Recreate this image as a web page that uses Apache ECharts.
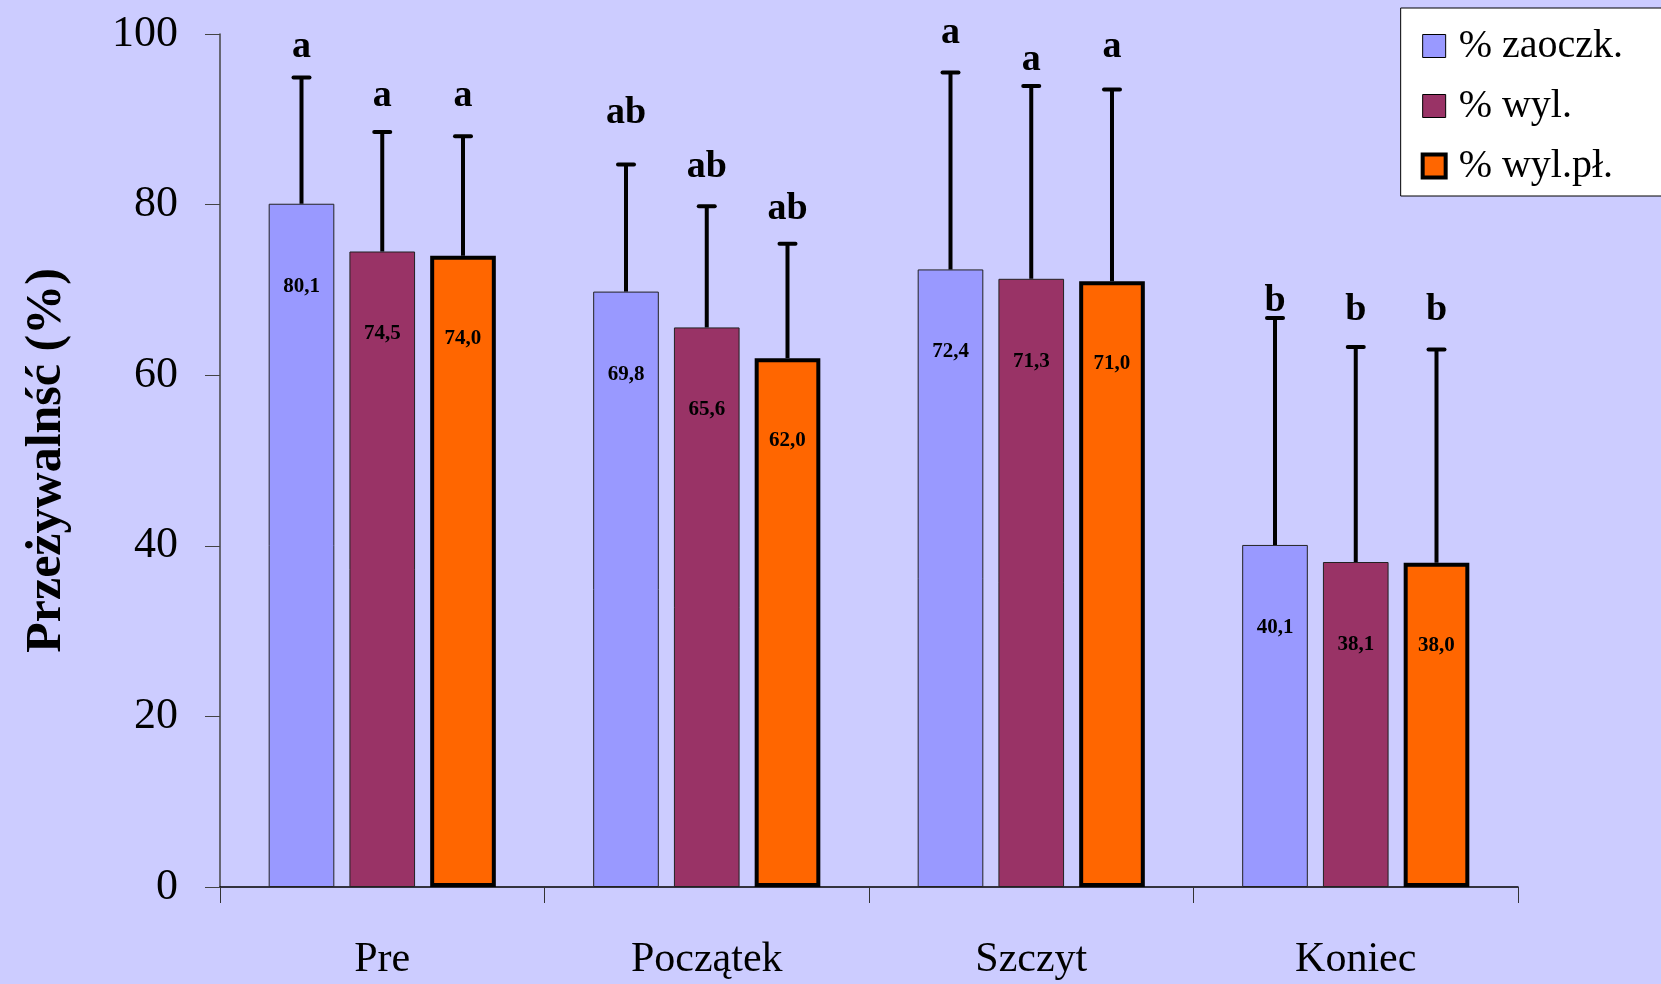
<!DOCTYPE html>
<html>
<head>
<meta charset="utf-8">
<script src="https://cdn.jsdelivr.net/npm/echarts@6/dist/echarts.min.js"></script>
<style>
  html, body { margin: 0; padding: 0; background: #CCCCFF; }
  #chart { width: 1661px; height: 984px; }
</style>
</head>
<body>
<div id="chart"></div>
<script>
// === DANE ===
const categories = ['Pre', 'Początek', 'Szczyt', 'Koniec'];
const seriesNames = ['% zaoczk.', '% wyl.', '% wyl.pł.'];

const zaoczk = [80.1, 69.8, 72.4, 40.1];
const wyl = [74.5, 65.6, 71.3, 38.1];
const wylPl = [74.0, 62.0, 71.0, 38.0];

// górne końce słupków błędu
const errZaoczk = [94.9, 84.7, 95.5, 66.7];
const errWyl = [88.5, 79.8, 93.9, 63.3];
const errWylPl = [88.0, 75.4, 93.5, 63.0];

// litery grup jednorodnych i ich wysokość (w jednostkach osi Y)
const lettersZaoczk = ['a', 'ab', 'a', 'b'];
const lettersWyl = ['a', 'ab', 'a', 'b'];
const lettersWylPl = ['a', 'ab', 'a', 'b'];
const letterYZaoczk = [98.5, 90.7, 100.1, 68.7];
const letterYWyl = [92.7, 84.4, 96.9, 67.6];
const letterYWylPl = [92.7, 79.5, 98.5, 67.6];

const yTicks = [0, 20, 40, 60, 80, 100];

// === KONFIGURACJA ===
const colors = ['#9999FF', '#993366', '#FF6600'];
const serif = '"Liberation Serif", "Times New Roman", serif';
const CAT_GAP = 0.3;
const BAR_GAP = 0.23;

const values = [zaoczk, wyl, wylPl];
const errs = [errZaoczk, errWyl, errWylPl];
const letters = [lettersZaoczk, lettersWyl, lettersWylPl];
const letterY = [letterYZaoczk, letterYWyl, letterYWylPl];

// dane do serii custom: [kategoria, seria, wartość, górny błąd, y litery]
const errData = [];
values.forEach((arr, s) => {
    arr.forEach((v, i) => {
        errData.push([i, s, v, errs[s][i], letterY[s][i], letters[s][i]]);
    });
});

function fmt(v) {
    return v.toFixed(1).replace('.', ',');
}

function renderError(params, api) {
    const cat = api.value(0);
    const s = api.value(1);
    const val = api.value(2);
    const top = api.value(3);
    const ly = api.value(4);
    const letter = errData[params.dataIndex][5];
    const band = api.size([1, 0])[0];
    const bw = band * (1 - CAT_GAP) / (3 + 2 * BAR_GAP);
    const cx = api.coord([cat, 0])[0] + (s - 1) * bw * (1 + BAR_GAP);
    const y0 = api.coord([cat, val])[1];
    const y1 = api.coord([cat, top])[1];
    const yl = api.coord([cat, ly])[1];
    const style = { stroke: '#000', lineWidth: 4 };
    return {
        type: 'group',
        children: [
            { type: 'line', shape: { x1: cx, y1: y0, x2: cx, y2: y1 }, style: style },
            { type: 'line', shape: { x1: cx - 8, y1: y1, x2: cx + 8, y2: y1 }, style: Object.assign({ lineCap: 'round' }, style) },
            {
                type: 'text',
                x: cx, y: yl,
                style: {
                    text: letter, fill: '#000',
                    font: 'bold 38px ' + serif,
                    align: 'center', verticalAlign: 'middle'
                }
            }
        ]
    };
}

const chart = echarts.init(document.getElementById('chart'));

const barSeries = seriesNames.map((name, s) => ({
    name: name,
    type: 'bar',
    data: values[s],
    barCategoryGap: (CAT_GAP * 100) + '%',
    barGap: (BAR_GAP * 100) + '%',
    itemStyle: {
        color: colors[s],
        borderColor: s === 2 ? '#000' : '#222',
        borderWidth: s === 2 ? 4 : 1
    },
    label: {
        show: true,
        position: 'insideTop',
        distance: 72,
        formatter: p => fmt(p.value),
        color: '#000',
        fontFamily: serif,
        fontWeight: 'bold',
        fontSize: 21
    },
    emphasis: { disabled: true }
}));

const option = {
    backgroundColor: '#CCCCFF',
    animation: false,
    grid: { left: 220, right: 143, top: 34, bottom: 97 },
    legend: {
        orient: 'vertical',
        right: -2,
        top: 8,
        padding: [18, 40, 10, 20],
        backgroundColor: '#FFFFFF',
        borderColor: '#000',
        borderWidth: 1,
        itemWidth: 23,
        itemHeight: 23,
        itemGap: 20,
        textStyle: { fontFamily: serif, fontSize: 40, color: '#000', padding: [0, 0, 0, 8] },
        data: seriesNames.map((n, s) => ({
            name: n,
            icon: 'rect',
            itemStyle: {
                color: colors[s],
                borderColor: '#000',
                borderWidth: s === 2 ? 4 : 1
            }
        }))
    },
    xAxis: {
        type: 'category',
        data: categories,
        axisLine: { lineStyle: { color: '#000', width: 1.5 } },
        axisTick: { show: true, length: 16, lineStyle: { color: '#333' } },
        axisLabel: {
            margin: 52,
            fontFamily: serif,
            fontSize: 42,
            color: '#000'
        }
    },
    yAxis: {
        type: 'value',
        min: 0,
        max: 100,
        interval: 20,
        splitLine: { show: false },
        axisLine: { show: true, lineStyle: { color: '#444', width: 1.5 } },
        axisTick: { show: true, length: 15, lineStyle: { color: '#444' } },
        axisLabel: {
            margin: 42,
            fontFamily: serif,
            fontSize: 44,
            color: '#000',
            formatter: v => (yTicks.indexOf(v) >= 0 ? String(v) : '')
        },
        name: 'Przeżywalnść (%)',
        nameLocation: 'middle',
        nameGap: 148,
        nameTextStyle: {
            fontFamily: serif,
            fontWeight: 'bold',
            fontSize: 50,
            color: '#000'
        }
    },
    series: barSeries.concat([{
        type: 'custom',
        name: 'err',
        renderItem: renderError,
        data: errData,
        z: 10,
        silent: true
    }])
};

chart.setOption(option);
</script>
</body>
</html>
